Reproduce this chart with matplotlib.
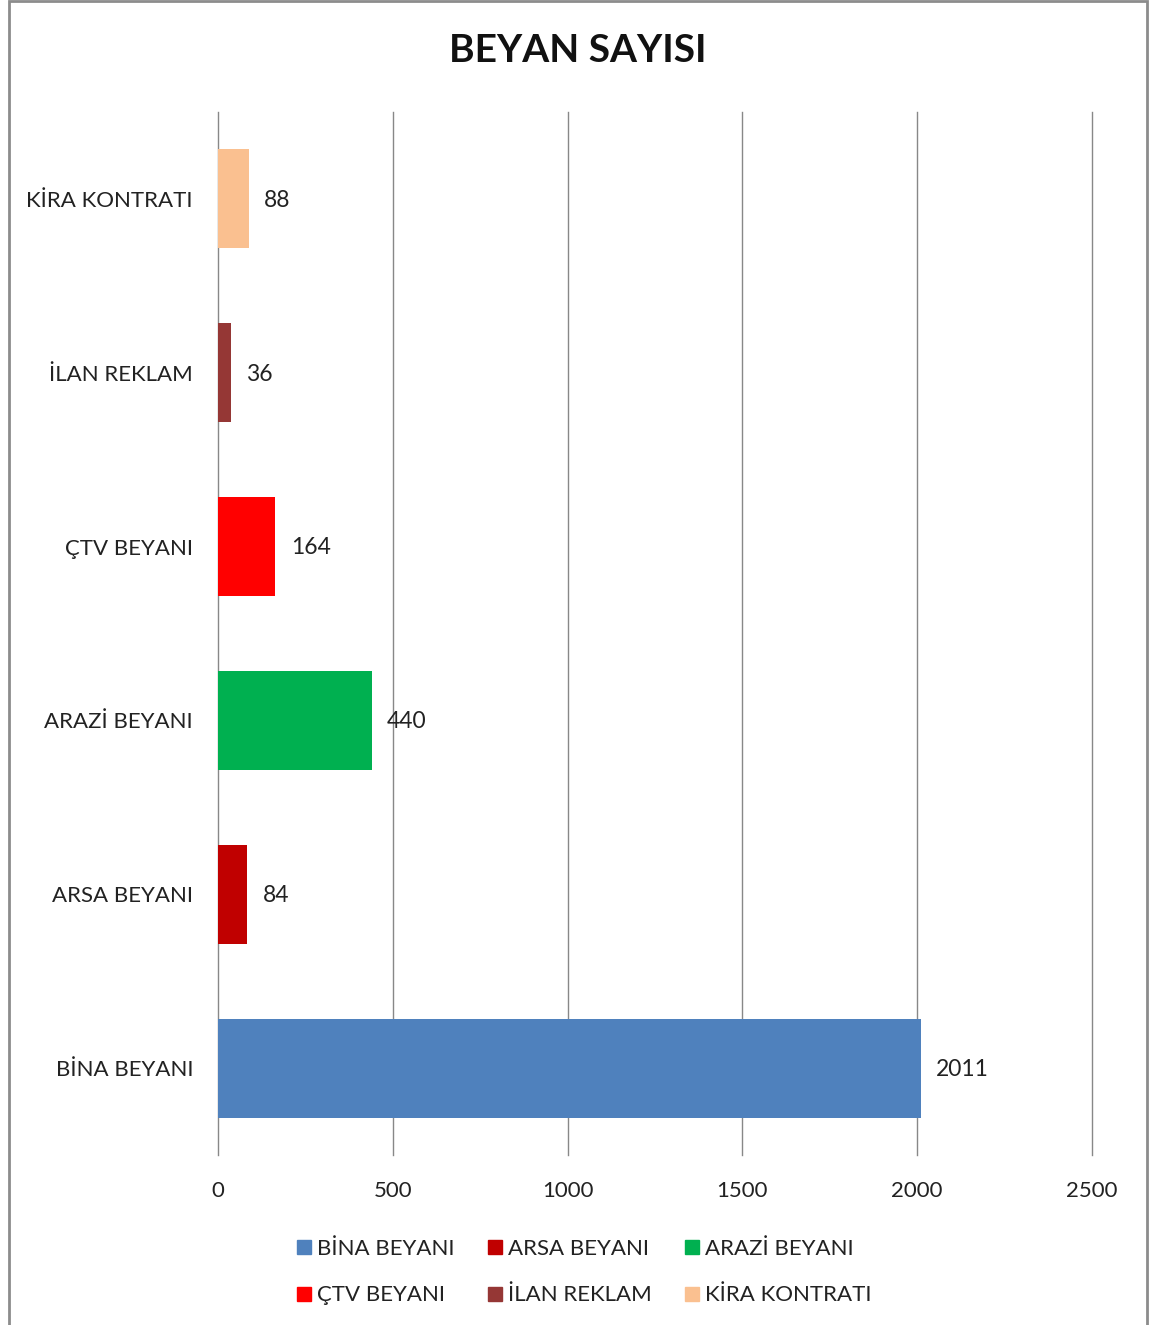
import matplotlib
matplotlib.use("Agg")
import matplotlib.pyplot as plt
from matplotlib.patches import Rectangle
from matplotlib.lines import Line2D

categories = ["BİNA BEYANI", "ARSA BEYANI", "ARAZİ BEYANI", "ÇTV BEYANI", "İLAN REKLAM", "KİRA KONTRATI"]
values = [2011, 84, 440, 164, 36, 88]
colors = ["#4F81BD", "#C00000", "#00B050", "#FF0000", "#953735", "#FAC090"]
xticks = [0, 500, 1000, 1500, 2000, 2500]
title = "BEYAN SAYISI"

plt.rcParams['font.family'] = ['Lato', 'DejaVu Sans']
W, H = 1155, 1325
fig = plt.figure(figsize=(W/100, H/100), dpi=100)

ax = fig.add_axes([218/W, 1-1155/H, (1092-218)/W, (1155-112)/H])
ypos = list(range(len(categories)))
ax.barh(ypos, values, height=0.57, color=colors, zorder=3)
ax.set_xlim(0, 2500)
ax.set_ylim(-0.5, len(categories)-0.5)
ax.set_xticks(xticks)
ax.set_xticklabels([str(t) for t in xticks], fontsize=16, color="#222222")
ax.set_yticks(ypos)
ax.set_yticklabels(categories, fontsize=16, color="#222222")
ax.tick_params(axis='both', length=0)
ax.tick_params(axis='x', pad=19)
ax.tick_params(axis='y', pad=18)
ax.grid(axis='x', color="#888888", linewidth=1, zorder=0)
for gl in ax.get_xgridlines():
    gl.set_clip_on(False)
for s in ax.spines.values():
    s.set_visible(False)

for y, v in zip(ypos, values):
    ax.annotate(str(v), (v, y), xytext=(11, -1), textcoords='offset points',
                va='center', ha='left', fontsize=16.5, color="#222222", zorder=4)

fig.text(578/W, 1-50/H, title, ha='center', va='center', fontsize=28, fontweight='bold', color="#111111")

order = [0, 3, 1, 4, 2, 5]
handles = [Line2D([0], [0], marker='s', linestyle='none', markersize=10,
                  markerfacecolor=colors[i], markeredgecolor=colors[i]) for i in order]
labels = [categories[i] for i in order]
fig.legend(handles, labels, ncol=3, loc='center', bbox_to_anchor=(582/W, 1-1272/H),
           frameon=False, fontsize=16, handletextpad=0.1, columnspacing=1.3,
           labelspacing=1.2, handlelength=1.0, labelcolor="#222222")

fig.add_artist(Rectangle((9/W, -0.01), (1147-9)/W, 1.01-1/H, transform=fig.transFigure,
                         fill=False, edgecolor="#8c8c8c", linewidth=2))

fig.savefig("out.png", dpi=100, facecolor="white")
